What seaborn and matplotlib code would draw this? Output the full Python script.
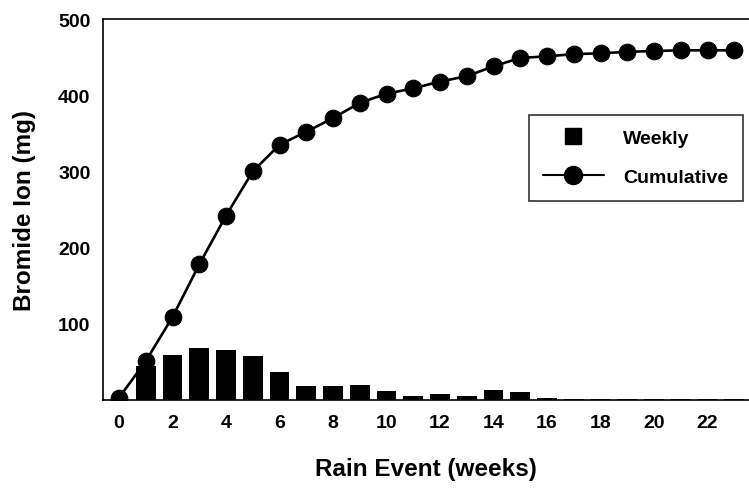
import matplotlib
matplotlib.use("Agg")
import matplotlib.pyplot as plt
from matplotlib.lines import Line2D
import seaborn as sns
import pandas as pd

weeks = list(range(0, 24))
weekly = [0, 44, 59, 68, 65, 58, 37, 19, 18, 20, 12, 5, 8, 5, 13, 10, 3, 1.5, 1.5, 1.5, 1, 1, 1, 1]
cumulative = [3, 51, 109, 178, 242, 300, 335, 352, 370, 390, 402, 409, 418, 425, 438, 449,
              451, 454, 455, 457, 458, 459, 459, 459]
xtick_vals = list(range(0, 23, 2))
ytick_vals = [100, 200, 300, 400, 500]

df = pd.DataFrame({"week": weeks, "weekly": weekly, "cumulative": cumulative})

sns.set_theme(style="white")
plt.rcParams['font.family'] = ['Liberation Sans', 'DejaVu Sans']
plt.rcParams['font.weight'] = 'bold'

fig = plt.figure(figsize=(7.49, 4.89), dpi=100)
ax = fig.add_axes([0.1375, 0.18, 0.8625, 0.779])

sns.barplot(data=df[df.week > 0], x="week", y="weekly", native_scale=True, width=0.74,
            color="black", saturation=1, edgecolor="black", linewidth=0, ax=ax)
sns.lineplot(data=df, x="week", y="cumulative", color="black", linewidth=1.9,
             marker="o", markersize=12, markeredgecolor="black", markerfacecolor="black", ax=ax)

ax.set_xlim(-0.6, 23.55)
ax.set_ylim(0, 500)
ax.set_xticks(xtick_vals)
ax.set_xticklabels([str(v) for v in xtick_vals])
ax.set_yticks(ytick_vals)
ax.set_yticklabels([str(v) for v in ytick_vals])
ax.tick_params(axis='y', direction='in', length=7, width=1, color='black', labelsize=14, pad=9)
ax.tick_params(axis='x', length=0, labelsize=14, pad=10)
for lab in ax.get_xticklabels() + ax.get_yticklabels():
    lab.set_fontweight('bold')
    lab.set_color('black')

for s in ['left', 'top', 'bottom']:
    ax.spines[s].set_visible(True)
    ax.spines[s].set_color('black')
    ax.spines[s].set_linewidth(1.2)
ax.spines['right'].set_visible(False)

ax.set_xlabel("Rain Event (weeks)", fontsize=17.5, fontweight='bold', color='black', labelpad=19)
ax.set_ylabel("Bromide Ion (mg)", fontsize=17.5, fontweight='bold', color='black', labelpad=16)

handles = [
    Line2D([], [], linestyle='none', marker='s', markersize=12, color='black'),
    Line2D([], [], color='black', linewidth=1.5, marker='o', markersize=13),
]
leg = ax.legend(handles, ["Weekly", "Cumulative"], loc='upper left',
                bbox_to_anchor=(0.659, 0.748), borderaxespad=0, frameon=True, fancybox=False,
                handlelength=3.1, handletextpad=1.0, borderpad=0.75, labelspacing=1.1,
                prop={'weight': 'bold', 'size': 14})
leg.get_frame().set_edgecolor('black')
leg.get_frame().set_linewidth(1.2)
for t in leg.get_texts():
    t.set_color('black')

fig.savefig("out.png", dpi=100)
